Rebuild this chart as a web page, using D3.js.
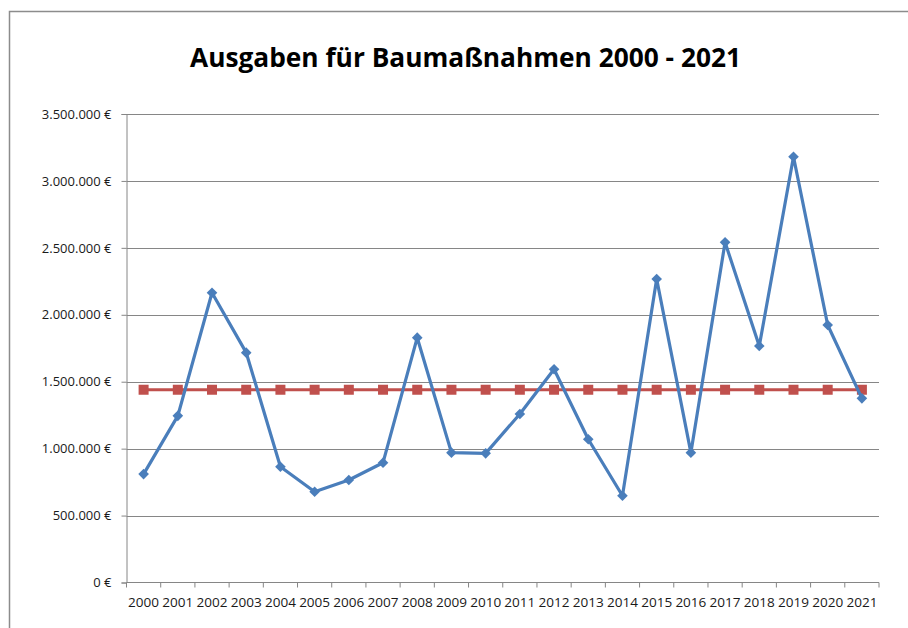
<!DOCTYPE html>
<html>
<head>
<meta charset="utf-8">
<script src="https://cdn.jsdelivr.net/npm/d3@7"></script>
<style>
  html, body { margin: 0; padding: 0; background: #fff; }
  svg { display: block; }
</style>
</head>
<body>
<svg id="chart" width="908" height="628"></svg>
<script>
const years = ["2000","2001","2002","2003","2004","2005","2006","2007","2008","2009","2010",
               "2011","2012","2013","2014","2015","2016","2017","2018","2019","2020","2021"];
const ausgaben = [810000, 1245000, 2165000, 1717000, 865000, 678000, 766000, 895000, 1829000, 970000, 965000,
                  1259000, 1593000, 1070000, 648000, 2267000, 970000, 2541000, 1767000, 3181000, 1924000, 1376000];
const durchschnitt = [1440000, 1440000, 1440000, 1440000, 1440000, 1440000, 1440000, 1440000, 1440000, 1440000, 1440000,
                      1440000, 1440000, 1440000, 1440000, 1440000, 1440000, 1440000, 1440000, 1440000, 1440000, 1440000];
const yTicks = [0, 500000, 1000000, 1500000, 2000000, 2500000, 3000000, 3500000];
const title = "Ausgaben für Baumaßnahmen 2000 - 2021";

const svg = d3.select("#chart");
const font = "Open Sans, Lato, sans-serif";

// chart border
svg.append("rect").attr("x", 9.5).attr("y", 11.5).attr("width", 908).attr("height", 628)
  .attr("fill", "none").attr("stroke", "#8c8c8c").attr("stroke-width", 1.5);

const plotLeft = 126.5, plotRight = 879, plotTop = 114, plotBottom = 582.5;

const x = d3.scaleBand().domain(years).range([plotLeft, plotRight]).padding(0);
const y = d3.scaleLinear().domain([0, 3500000]).range([plotBottom, plotTop]);

// title
svg.append("text").attr("x", 465.5).attr("y", 67)
  .attr("text-anchor", "middle")
  .attr("font-family", font).attr("font-weight", "bold").attr("font-size", 27)
  .attr("textLength", 551).attr("lengthAdjust", "spacingAndGlyphs")
  .attr("fill", "#000").text(title);

// gridlines
svg.append("g").selectAll("line").data(yTicks.filter(d => d > 0)).join("line")
  .attr("x1", plotLeft).attr("x2", plotRight)
  .attr("y1", d => Math.round(y(d)) + 0.5).attr("y2", d => Math.round(y(d)) + 0.5)
  .attr("stroke", "#868686").attr("stroke-width", 1);

// y axis
const fmt = d => d3.format(",")(d).replace(/,/g, ".") + " €";
const yAxis = svg.append("g").attr("transform", `translate(${plotLeft},0)`)
  .call(d3.axisLeft(y).tickValues(yTicks).tickFormat(fmt).tickSize(5).tickPadding(10));
yAxis.select(".domain").attr("stroke", "#868686");
yAxis.selectAll(".tick line").attr("stroke", "#868686");
yAxis.selectAll(".tick text").attr("font-family", font).attr("font-size", 13).attr("fill", "#1a1a1a");

// x axis
const xAxis = svg.append("g").attr("transform", `translate(0,${plotBottom})`)
  .call(d3.axisBottom(x).tickSize(0).tickPadding(15));
xAxis.select(".domain").attr("stroke", "#868686").attr("d", `M${plotLeft},0H${plotRight}V5`);
xAxis.selectAll(".tick text").attr("font-family", font).attr("font-size", 13).attr("fill", "#1a1a1a")
  .attr("textLength", 31).attr("lengthAdjust", "spacingAndGlyphs");
// category boundary ticks
xAxis.append("g").selectAll("line").data(years).join("line")
  .attr("x1", d => x(d)).attr("x2", d => x(d)).attr("y1", 0).attr("y2", 5)
  .attr("stroke", "#868686");

const cx = i => x(years[i]) + x.bandwidth() / 2;
const line = d3.line().x((d, i) => cx(i)).y(d => y(d));

// average series (red)
svg.append("path").datum(durchschnitt).attr("d", line)
  .attr("fill", "none").attr("stroke", "#C0504D").attr("stroke-width", 3.2);
svg.append("g").selectAll("rect").data(durchschnitt).join("rect")
  .attr("x", (d, i) => cx(i) - 5).attr("y", d => y(d) - 5)
  .attr("width", 10).attr("height", 10).attr("fill", "#C0504D");

// spending series (blue)
svg.append("path").datum(ausgaben).attr("d", line)
  .attr("fill", "none").attr("stroke", "#4A7EBB").attr("stroke-width", 3.2).attr("stroke-linejoin", "round");
svg.append("g").selectAll("path").data(ausgaben).join("path")
  .attr("d", d3.symbol().type(d3.symbolDiamond2).size(72))
  .attr("transform", (d, i) => `translate(${cx(i)},${y(d)})`)
  .attr("fill", "#4A7EBB");
</script>
</body>
</html>
